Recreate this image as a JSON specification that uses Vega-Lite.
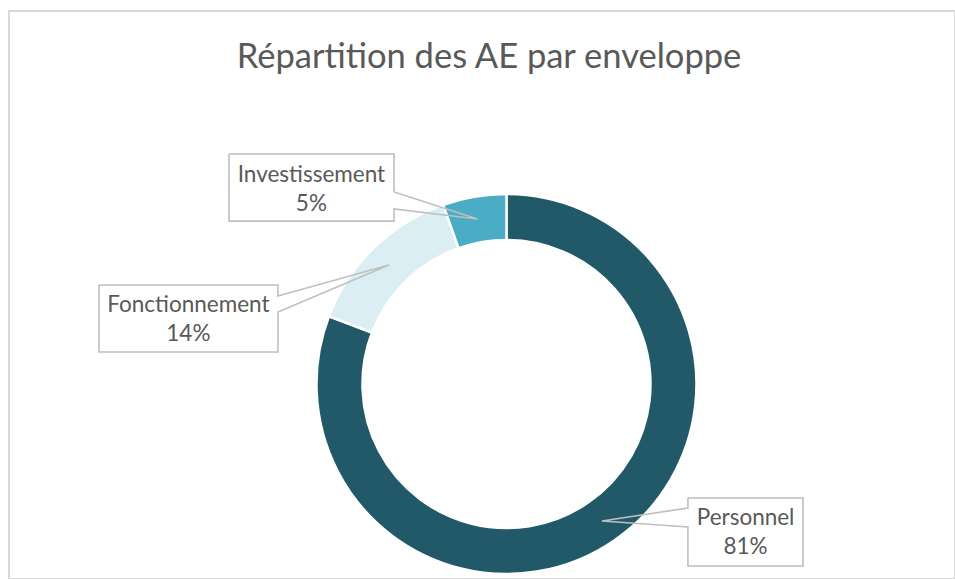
{
  "$schema": "https://vega.github.io/schema/vega-lite/v6.json",
  "width": 946,
  "height": 568,
  "autosize": {"type": "none"},
  "padding": {"left": 9, "top": 11, "right": 0, "bottom": 0},
  "background": "white",
  "title": {"text": "Répartition des AE par enveloppe", "font": "Lato", "fontSize": 34.5, "fontWeight": "normal", "color": "#595959", "anchor": "middle", "offset": -91, "baseline": "alphabetic", "dx": 7},
  "config": {"view": {"stroke": "#D9D9D9", "strokeWidth": 2}, "font": "Lato"},
  "datasets": {
    "shares": [
      {"enveloppe": "Personnel", "value": 80.8},
      {"enveloppe": "Fonctionnement", "value": 13.8},
      {"enveloppe": "Investissement", "value": 5.4}
    ],
    "labelpos": [
      {"enveloppe": "Investissement", "bx1": -146.8, "bx2": -59.5, "by1": 121.7, "by2": 86.2, "tx": -103.2, "ty": 107.1},
      {"enveloppe": "Fonctionnement", "bx1": -215.6, "bx2": -120.9, "by1": 52.4, "by2": 16.9, "tx": -168.3, "ty": 38.3},
      {"enveloppe": "Personnel", "bx1": 96.0, "bx2": 156.9, "by1": -60.3, "by2": -96.3, "tx": 126.5, "ty": -74.6}
    ],
    "outline": [
      {"enveloppe": "Investissement", "seq": 1, "x": -146.8, "y": 121.7},
      {"enveloppe": "Investissement", "seq": 2, "x": -59.5, "y": 121.7},
      {"enveloppe": "Investissement", "seq": 3, "x": -59.5, "y": 101.6},
      {"enveloppe": "Investissement", "seq": 4, "x": -15.3, "y": 87.3},
      {"enveloppe": "Investissement", "seq": 5, "x": -59.5, "y": 92.6},
      {"enveloppe": "Investissement", "seq": 6, "x": -59.5, "y": 86.2},
      {"enveloppe": "Investissement", "seq": 7, "x": -146.8, "y": 86.2},
      {"enveloppe": "Investissement", "seq": 8, "x": -146.8, "y": 121.7},
      {"enveloppe": "Fonctionnement", "seq": 1, "x": -215.6, "y": 52.4},
      {"enveloppe": "Fonctionnement", "seq": 2, "x": -120.9, "y": 52.4},
      {"enveloppe": "Fonctionnement", "seq": 3, "x": -120.9, "y": 46.6},
      {"enveloppe": "Fonctionnement", "seq": 4, "x": -62.2, "y": 63.0},
      {"enveloppe": "Fonctionnement", "seq": 5, "x": -120.9, "y": 38.1},
      {"enveloppe": "Fonctionnement", "seq": 6, "x": -120.9, "y": 16.9},
      {"enveloppe": "Fonctionnement", "seq": 7, "x": -215.6, "y": 16.9},
      {"enveloppe": "Fonctionnement", "seq": 8, "x": -215.6, "y": 52.4},
      {"enveloppe": "Personnel", "seq": 1, "x": 96.0, "y": -60.3},
      {"enveloppe": "Personnel", "seq": 2, "x": 156.9, "y": -60.3},
      {"enveloppe": "Personnel", "seq": 3, "x": 156.9, "y": -96.3},
      {"enveloppe": "Personnel", "seq": 4, "x": 96.0, "y": -96.3},
      {"enveloppe": "Personnel", "seq": 5, "x": 96.0, "y": -75.7},
      {"enveloppe": "Personnel", "seq": 6, "x": 50.5, "y": -72.5},
      {"enveloppe": "Personnel", "seq": 7, "x": 96.0, "y": -65.6},
      {"enveloppe": "Personnel", "seq": 8, "x": 96.0, "y": -60.3}
    ]
  },
  "layer": [
    {
      "data": {"name": "shares"},
      "mark": {"type": "arc", "outerRadius": 190, "innerRadius": 144, "stroke": "white", "strokeWidth": 2.5},
      "encoding": {
        "theta": {"field": "value", "type": "quantitative", "stack": true},
        "order": {"field": "value", "sort": "descending"},
        "color": {"field": "enveloppe", "type": "nominal", "scale": {"domain": ["Personnel", "Fonctionnement", "Investissement"], "range": ["#215968", "#DAEEF3", "#4BACC6"]}, "legend": null},
        "x": {"datum": 0, "type": "quantitative", "scale": {"domain": [-263.2, 237.3], "nice": false, "zero": false}, "axis": null},
        "y": {"datum": 0, "type": "quantitative", "scale": {"domain": [-103.2, 197.4], "nice": false, "zero": false}, "axis": null}
      }
    },
    {
      "data": {"name": "labelpos"},
      "mark": {"type": "rect", "fill": "white"},
      "encoding": {
        "x": {"field": "bx1", "type": "quantitative", "scale": {"domain": [-263.2, 237.3], "nice": false, "zero": false}, "axis": null},
        "x2": {"field": "bx2"},
        "y": {"field": "by1", "type": "quantitative", "scale": {"domain": [-103.2, 197.4], "nice": false, "zero": false}, "axis": null},
        "y2": {"field": "by2"}
      }
    },
    {
      "data": {"name": "outline"},
      "mark": {"type": "line", "stroke": "#BFBFBF", "strokeWidth": 1.6, "strokeJoin": "miter"},
      "encoding": {
        "x": {"field": "x", "type": "quantitative", "scale": {"domain": [-263.2, 237.3], "nice": false, "zero": false}, "axis": null},
        "y": {"field": "y", "type": "quantitative", "scale": {"domain": [-103.2, 197.4], "nice": false, "zero": false}, "axis": null},
        "detail": {"field": "enveloppe"},
        "order": {"field": "seq"}
      }
    },
    {
      "data": {"name": "shares"},
      "transform": [
        {"joinaggregate": [{"op": "sum", "field": "value", "as": "total"}]},
        {"calculate": "[datum.enveloppe, format(datum.value / datum.total, '.0%')]", "as": "label"},
        {"lookup": "enveloppe", "from": {"data": {"name": "labelpos"}, "key": "enveloppe", "fields": ["tx", "ty"]}}
      ],
      "mark": {"type": "text", "font": "Lato", "fontSize": 22.5, "color": "#595959", "align": "center", "baseline": "alphabetic", "lineHeight": 29},
      "encoding": {
        "x": {"field": "tx", "type": "quantitative", "scale": {"domain": [-263.2, 237.3], "nice": false, "zero": false}, "axis": null},
        "y": {"field": "ty", "type": "quantitative", "scale": {"domain": [-103.2, 197.4], "nice": false, "zero": false}, "axis": null},
        "text": {"field": "label"}
      }
    }
  ]
}
